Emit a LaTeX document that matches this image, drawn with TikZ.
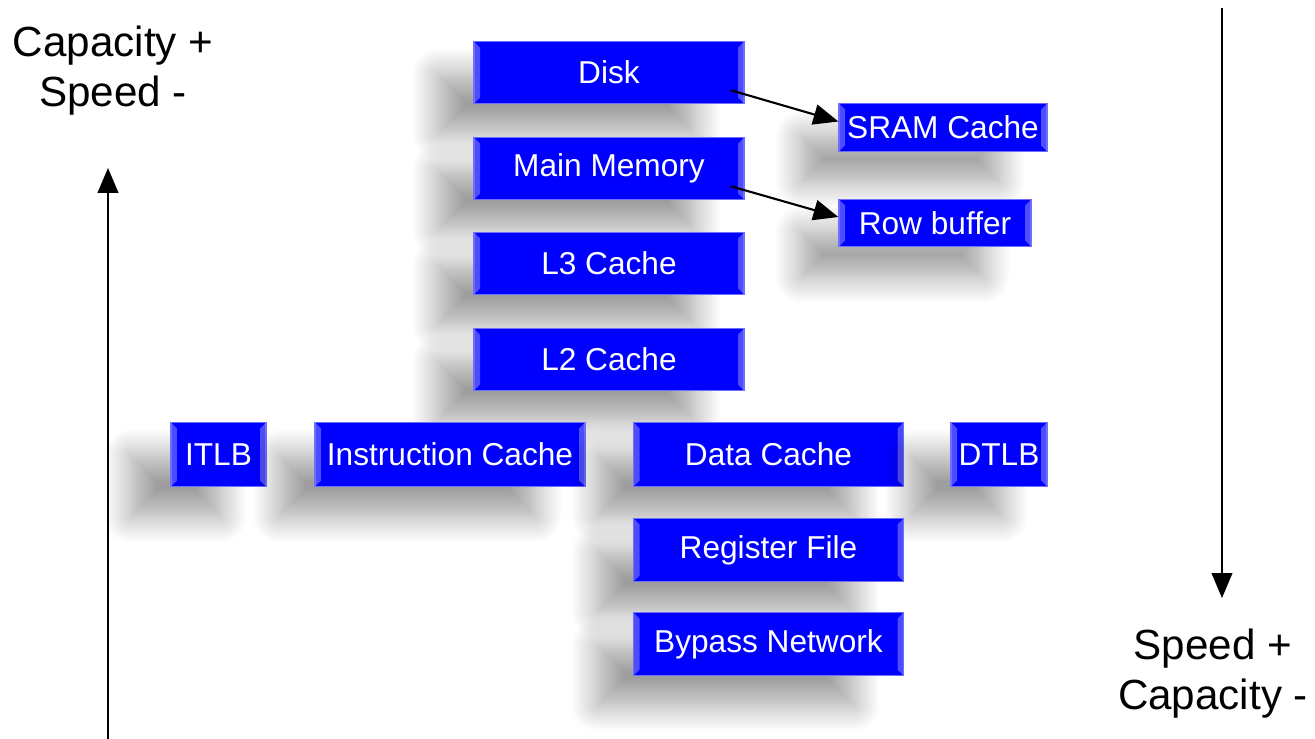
\documentclass[tikz,border=0pt]{standalone}
\usepackage{fontspec}
\setmainfont{Liberation Sans}
\usetikzlibrary{shadows.blur}
\usetikzlibrary{arrows}
\usetikzlibrary{positioning}

\begin{document}
\begin{tikzpicture}[]
	%\draw[help lines] (0,0) grid (13,-7);
	\useasboundingbox (0,0) rectangle (13.15,-7.39);

	\definecolor{boxblue}{RGB}{0,0,255}
	\definecolor{bevel}{RGB}{110,110,255}
	\tikzstyle{mbox} = [rectangle,draw=bevel,fill=boxblue,text=white,inner sep=0pt,
		font=\fontsize{9}{11}\selectfont,minimum height=6.2mm,
		blur shadow={shadow xshift=-0.45cm,shadow yshift=-0.33cm,shadow blur radius=0.28cm,
			shadow blur steps=24,shadow opacity=38,shadow scale=0.95},
		path picture={
			\fill[bevel!70!boxblue] (path picture bounding box.north west) -- ++(0.06,-0.06)
				-- ([shift={(0.06,0.06)}]path picture bounding box.south west)
				-- (path picture bounding box.south west) -- cycle;
			\fill[bevel!70!boxblue] (path picture bounding box.north east) -- ++(-0.06,-0.06)
				-- ([shift={(-0.06,0.06)}]path picture bounding box.south east)
				-- (path picture bounding box.south east) -- cycle;
		}]
	\tikzstyle{wide} = [minimum width=2.7cm]
	\tikzstyle{vedge} = [->,>=triangle 45,semithick]
	\tikzstyle{label} = [align=center,font=\fontsize{12}{14.2}\selectfont]

	\node[mbox,wide] (disk) at (6.09, -0.725) {Disk};
	\node[mbox,wide] (mem) at (6.09, -1.685) {Main Memory};
	\node[mbox,wide] (l3) at (6.09, -2.635) {L3 Cache};
	\node[mbox,wide] (l2) at (6.09, -3.595) {L2 Cache};

	\node[mbox,minimum width=2.08cm,minimum height=4.8mm] (sram) at (9.43, -1.275) {SRAM Cache};
	\node[mbox,minimum width=1.92cm,minimum height=4.7mm] (rowbuf) at (9.35, -2.23) {Row buffer};

	\node[mbox,minimum width=0.95cm,minimum height=6.4mm] (itlb) at (2.185, -4.545) {ITLB};
	\node[mbox,wide,minimum height=6.4mm] (icache) at (4.50, -4.545) {Instruction Cache};
	\node[mbox,wide,minimum height=6.4mm] (dcache) at (7.685, -4.545) {Data Cache};
	\node[mbox,minimum width=0.96cm,minimum height=6.4mm] (dtlb) at (9.99, -4.545) {DTLB};

	\node[mbox,wide,minimum height=6.3mm] (regfile) at (7.685, -5.50) {Register File};
	\node[mbox,wide,minimum height=6.3mm] (bypass) at (7.685, -6.44) {Bypass Network};

	\draw[vedge] ([shift={(-0.14,0.14)}]disk.south east) -- ([yshift=0.06cm]sram.west);
	\draw[vedge] ([shift={(-0.14,0.14)}]mem.south east) -- ([yshift=0.06cm]rowbuf.west);

	\coordinate (up0) at (1.08, -7.39);
	\coordinate (up1) at (1.08, -1.68);
	\coordinate (dn0) at (12.22, -0.08);
	\coordinate (dn1) at (12.22, -5.98);
	\draw (up0) edge [vedge] (up1);
	\draw (dn0) edge [vedge] (dn1);

	\node[label] (capup) at (1.13, -0.71) {Capacity +\\Speed -};
	\node[label] (speedup) at (12.13, -6.74) {Speed +\\Capacity -};

\end{tikzpicture}
\end{document}
